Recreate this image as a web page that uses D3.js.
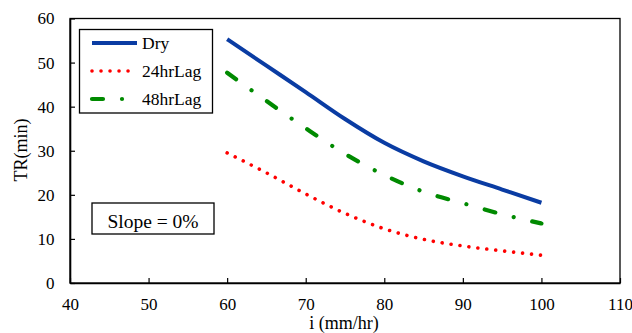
<!DOCTYPE html>
<html><head><meta charset="utf-8">
<script src="https://cdn.jsdelivr.net/npm/d3@7"></script>
<style>
body{margin:0;background:#fff}
svg{display:block}
svg text{font-family:"Liberation Serif" !important;}
</style>
</head><body><svg id="c" width="632" height="333"></svg>
<script>
const intensity = [60, 65, 70, 75, 80, 85, 90, 95, 100];
const dry =      [55.3, 49.3, 43.3, 37.2, 31.8, 27.6, 24.2, 21.2, 18.2];
const lag24 =    [29.5, 25.0, 20.2, 15.8, 12.3, 9.9, 8.4, 7.3, 6.3];
const lag48 =    [47.7, 41.3, 35.1, 29.3, 24.5, 20.7, 18.1, 15.6, 13.5];
const xTicks = [40, 50, 60, 70, 80, 90, 100, 110];
const yTicks = [0, 10, 20, 30, 40, 50, 60];
const seriesNames = ["Dry", "24hrLag", "48hrLag"];

const FONT = "Liberation Serif";
const svg = d3.select("#c").attr("font-family", FONT).style("font-family", FONT);
const L = 70, R = 620, T = 18.5, B = 283;
const x = d3.scaleLinear().domain([40, 110]).range([L, R]);
const y = d3.scaleLinear().domain([0, 60]).range([B, T]);

const styles = [
  {color: "#0a3ca3", width: 4, dash: null, cap: "butt"},
  {color: "#ff0000", width: 3.6, dash: "0.01 9", cap: "round"},
  {color: "#008a00", width: 4.2, dash: "11 19 0.01 19", cap: "round"}
];
const data = [dry, lag24, lag48];

// frame
svg.append("rect").attr("x", L).attr("y", T).attr("width", R - L).attr("height", B - T)
  .attr("fill", "none").attr("stroke", "#000").attr("stroke-width", 1.3);

// axes
const xa = svg.append("g").attr("transform", `translate(0,${B})`)
  .call(d3.axisBottom(x).tickValues(xTicks).tickSizeInner(-5).tickSizeOuter(0).tickPadding(12));
const ya = svg.append("g").attr("transform", `translate(${L},0)`)
  .call(d3.axisLeft(y).tickValues(yTicks).tickSizeInner(-5).tickSizeOuter(0).tickPadding(15.5));
[xa, ya].forEach(a => {
  a.attr("font-family", FONT).attr("font-size", 17);
  a.select(".domain").attr("stroke", "#000").attr("stroke-width", 1.6);
  a.selectAll(".tick line").attr("stroke", "#000").attr("stroke-width", 1.2);
  a.selectAll("text").attr("fill", "#000").attr("font-family", FONT)
    .style("font-family", FONT).style("font-size", "17px");
});
xa.selectAll("text").attr("dy", 0).attr("y", 27);

// lines
const line = d3.line().curve(d3.curveMonotoneX).x((d, i) => x(intensity[i])).y(d => y(d));
data.forEach((s, k) => {
  const st = styles[k];
  svg.append("path").datum(s).attr("d", line).attr("fill", "none")
    .attr("stroke", st.color).attr("stroke-width", st.width)
    .attr("stroke-linecap", st.cap)
    .attr("stroke-dasharray", st.dash);
});

function txt(sel) { return sel.attr("font-family", FONT).style("font-family", FONT).attr("fill", "#000"); }

// legend
svg.append("rect").attr("x", 79.5).attr("y", 29.5).attr("width", 133).attr("height", 83.5)
  .attr("fill", "#fff").attr("stroke", "#000").attr("stroke-width", 1.3);
seriesNames.forEach((n, k) => {
  const st = styles[k];
  const ly = 43 + k * 28;
  svg.append("line").attr("x1", 92).attr("x2", 137).attr("y1", ly).attr("y2", ly)
    .attr("stroke", st.color).attr("stroke-width", st.width)
    .attr("stroke-linecap", st.cap).attr("stroke-dasharray", st.dash);
  txt(svg.append("text")).attr("x", 142).attr("y", ly + 6).style("font-size", "17.5px").text(n);
});

// slope box
svg.append("rect").attr("x", 92).attr("y", 203).attr("width", 122).attr("height", 31)
  .attr("fill", "#fff").attr("stroke", "#000").attr("stroke-width", 1.3);
txt(svg.append("text")).attr("x", 153).attr("y", 227.5).attr("text-anchor", "middle")
  .style("font-size", "19.5px").text("Slope = 0%");

// axis titles
txt(svg.append("text")).attr("x", 344).attr("y", 329).attr("text-anchor", "middle")
  .style("font-size", "18px").text("i (mm/hr)");
txt(svg.append("text")).attr("transform", "translate(27,150) rotate(-90)").attr("text-anchor", "middle")
  .style("font-size", "18px").text("TR(min)");
</script></body></html>
